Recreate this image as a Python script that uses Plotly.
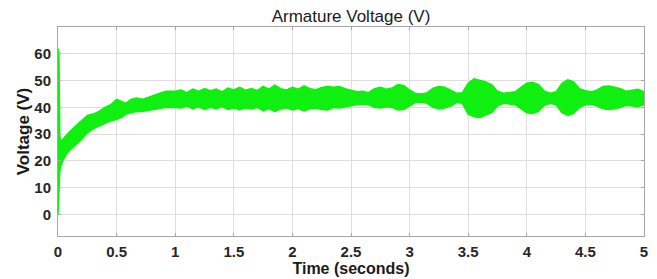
import plotly.graph_objects as go

# Time points (s) and read-off envelope of the noisy armature voltage (V)
t = [0, 0.008, 0.015, 0.02, 0.04, 0.07, 0.1, 0.15, 0.2, 0.25, 0.3, 0.35, 0.4, 0.45,
     0.5, 0.55, 0.58, 0.62, 0.67, 0.72, 0.78, 0.85, 0.92,
     1.0, 1.05, 1.1, 1.15, 1.2, 1.25, 1.3, 1.35, 1.4, 1.45, 1.5, 1.55, 1.6, 1.65,
     1.7, 1.75, 1.8, 1.85, 1.9, 1.95, 2.0, 2.05, 2.1, 2.15, 2.2, 2.25, 2.3,
     2.35, 2.4, 2.45, 2.5, 2.55, 2.6, 2.65, 2.7, 2.75, 2.8, 2.85, 2.9, 2.95,
     3.0, 3.05, 3.1, 3.15, 3.2, 3.25, 3.3, 3.35, 3.4, 3.45, 3.5, 3.55, 3.6, 3.65,
     3.7, 3.75, 3.8, 3.85, 3.9, 3.95, 4.0, 4.05, 4.1, 4.15, 4.2, 4.25, 4.3, 4.35,
     4.4, 4.45, 4.5, 4.55, 4.6, 4.65, 4.7, 4.75, 4.8, 4.85, 4.9, 4.95, 5.0]

upper = [62, 60, 30, 27.5, 28, 29.5, 31, 33, 35, 37, 37.5, 38.5, 40, 41,
         43, 42, 41.5, 43, 43.5, 43, 44, 45, 46,
         46, 46.5, 45.5, 46.8, 46, 47, 46.2, 46.8, 45.8, 47.2, 46.5, 47.5, 46.4, 47,
         46.3, 47.8, 46.8, 48.3, 47, 46.5, 47.5, 46.8, 48, 47, 46.6, 47.4, 47.8,
         47.5, 47.8, 47, 46.5, 45.8, 46, 45.5, 47, 47.5, 46.8, 47.2, 48.5, 48.2,
         46.5, 45.2, 45, 45.5, 47.2, 47.8, 47.5, 46.5, 45.3, 45.5, 49, 50.7, 50, 49.5,
         48.5, 46, 45.3, 45.5, 45.8, 47.5, 49, 49.4, 48.5, 46, 45.3, 45.8, 49, 50.3,
         49.5, 47, 46.2, 45.8, 46.5, 47.8, 48, 47.5, 47, 46, 46.5, 46.8, 45.8]

lower = [0, 12, 16, 17.5, 20, 22.5, 24, 26, 28, 30.5, 32, 33, 34, 35,
         35.5, 36.5, 37.5, 38, 38.5, 38.5, 39, 39.5, 40,
         40, 39.8, 40.5, 39.5, 40.2, 39.2, 40, 39.5, 40.3, 39.2, 39.8, 39, 39.8, 39.4,
         40, 38.8, 39.5, 38.5, 39.4, 39.8, 39, 39.6, 38.7, 39.5, 39.8, 39.2, 39,
         40, 39.8, 40.2, 40.8, 41, 41.2, 41, 40, 39.8, 40.2, 40, 39, 39.2,
         40.5, 41.8, 42, 41.5, 40, 39.5, 39.8, 40.5, 41.8, 41.5, 37.5, 36.5, 36.2, 37,
         38, 40.5, 41.5, 41.3, 41, 39.5, 38, 37.7, 38.5, 40.8, 41.5, 41, 38, 37,
         37.8, 40, 41, 41.2, 40.5, 39.5, 39.2, 39.5, 40, 40.8, 40.5, 40.2, 41]

x_ticks = [0, 0.5, 1, 1.5, 2, 2.5, 3, 3.5, 4, 4.5, 5]
x_tick_labels = ["0", "0.5", "1", "1.5", "2", "2.5", "3", "3.5", "4", "4.5", "5"]
y_ticks = [0, 10, 20, 30, 40, 50, 60]

green = "#10f010"
FONT = "Liberation Sans, Arial, sans-serif"

# the page body adds an 8px offset, so the figure is 8px smaller than the window
W, H = 649, 271

fig = go.Figure()
fig.add_trace(go.Scatter(x=t, y=lower, mode="lines",
                         line=dict(color=green, width=1.5), showlegend=False,
                         hoverinfo="skip"))
fig.add_trace(go.Scatter(x=t, y=upper, mode="lines", fill="tonexty",
                         fillcolor=green, line=dict(color=green, width=1.5),
                         showlegend=False, hoverinfo="skip"))

tick_font = dict(family=FONT, size=15, color="#262626", weight="bold")

fig.update_layout(
    width=W, height=H,
    margin=dict(l=50, r=13, t=19, b=43, autoexpand=False),
    paper_bgcolor="white", plot_bgcolor="white",
    title=dict(text="Armature Voltage (V)", x=343 / W, xanchor="center",
               y=1 - 8 / H, yanchor="middle",
               font=dict(family=FONT, size=17, color="#1a1a1a")),
    xaxis=dict(range=[0, 5], tickvals=x_ticks, ticktext=x_tick_labels,
               showgrid=True, gridcolor="#dedede", gridwidth=1, automargin=False,
               zeroline=False, showline=True, linecolor="#a6a6a6", linewidth=1,
               mirror="ticks", ticks="inside", ticklen=3, tickcolor="#a6a6a6",
               tickfont=tick_font, ticklabelstandoff=2,
               title=dict(text="Time (seconds)", standoff=3,
                          font=dict(family=FONT, size=16, color="#1a1a1a",
                                    weight="bold"))),
    yaxis=dict(range=[-8, 70], tickvals=y_ticks,
               showgrid=True, gridcolor="#dedede", gridwidth=1, automargin=False,
               zeroline=False, showline=True, linecolor="#a6a6a6", linewidth=1,
               mirror="ticks", ticks="inside", ticklen=3, tickcolor="#a6a6a6",
               tickfont=tick_font, ticklabelstandoff=3,
               title=dict(text="Voltage (V)", standoff=0,
                          font=dict(family=FONT, size=17, color="#1a1a1a",
                                    weight="bold"))),
)

fig.write_html("out.html")
